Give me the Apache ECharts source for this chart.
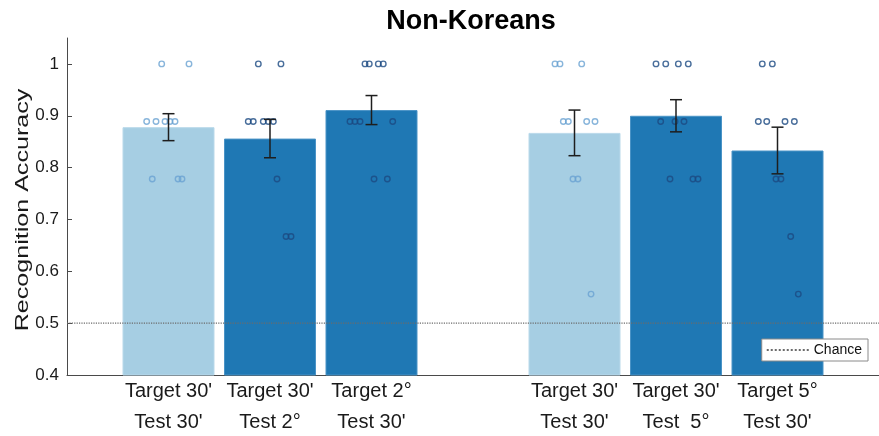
<!DOCTYPE html>
<html>
<head>
<meta charset="utf-8">
<title>Non-Koreans</title>
<script src="https://cdn.jsdelivr.net/npm/echarts@6/dist/echarts.min.js"></script>
<style>
  html, body { margin: 0; padding: 0; background: #fff; }
  #chart { width: 879px; height: 436px; }
</style>
</head>
<body>
<div id="chart"></div>
<script>
// Condition labels on the x axis; blank slots separate the two experiment groups
const categories = [
  '',
  "Target 30'\nTest 30'",
  "Target 30'\nTest 2°",
  "Target 2°\nTest 30'",
  '',
  "Target 30'\nTest 30'",
  "Target 30'\nTest  5°",
  "Target 5°\nTest 30'",
  ''
];
const barPos = [1, 2, 3, 5, 6, 7];
const meanAcc = [0.878, 0.856, 0.911, 0.867, 0.900, 0.833];
const semAcc = [0.026, 0.037, 0.028, 0.044, 0.031, 0.045];
const barShade = ['light', 'dark', 'dark', 'light', 'dark', 'dark'];
const yTicks = [0.4, 0.5, 0.6, 0.7, 0.8, 0.9, 1.0];
const chanceLevel = 0.5;

// Individual participant accuracies per condition, with horizontal jitter
const subjScores = [
  [1, 1, 0.889, 0.889, 0.889, 0.889, 0.889, 0.778, 0.778, 0.778],
  [1, 1, 0.889, 0.889, 0.889, 0.889, 0.889, 0.778, 0.667, 0.667],
  [1, 1, 1, 1, 0.889, 0.889, 0.889, 0.889, 0.778, 0.778],
  [1, 1, 1, 0.889, 0.889, 0.889, 0.889, 0.778, 0.778, 0.556],
  [1, 1, 1, 1, 0.889, 0.889, 0.889, 0.778, 0.778, 0.778],
  [1, 1, 0.889, 0.889, 0.889, 0.889, 0.778, 0.778, 0.667, 0.556]
];
const subjJitter = [
  [-0.067, 0.202, -0.215, -0.123, -0.034, 0.015, 0.064, -0.160, 0.094, 0.133],
  [-0.115, 0.108, -0.214, -0.165, -0.066, -0.017, 0.033, 0.069, 0.158, 0.207],
  [-0.064, -0.022, 0.067, 0.116, -0.212, -0.163, -0.113, 0.209, 0.025, 0.156],
  [-0.192, -0.143, 0.071, -0.110, -0.061, 0.120, 0.202, -0.015, 0.034, 0.163],
  [-0.197, -0.101, 0.023, 0.121, -0.151, -0.010, 0.079, -0.059, 0.167, 0.217],
  [-0.150, -0.051, -0.189, -0.106, 0.074, 0.166, -0.015, 0.034, 0.130, 0.205]
];

const palette = {
  light: { bar: '#a6cee3', edge: '#b9d9ea', dot: '#6aa3d2' },
  dark:  { bar: '#1f78b4', edge: '#4a93c6', dot: '#1b4a82' }
};
const FONT = '"Liberation Sans", Arial, Helvetica, sans-serif';

const barData = barPos.map((x, i) => ({
  value: [x, meanAcc[i]],
  itemStyle: {
    color: palette[barShade[i]].bar,
    borderColor: palette[barShade[i]].edge,
    borderWidth: 1
  }
}));

const errData = barPos.map((x, i) => [x, meanAcc[i] - semAcc[i], meanAcc[i] + semAcc[i]]);

const dotData = [];
subjScores.forEach((scores, i) => {
  scores.forEach((s, k) => {
    dotData.push({
      value: [barPos[i] + subjJitter[i][k], s],
      itemStyle: { borderColor: palette[barShade[i]].dot }
    });
  });
});

const chart = echarts.init(document.getElementById('chart'), null, { renderer: 'canvas' });

chart.setOption({
  animation: false,
  backgroundColor: '#ffffff',
  title: {
    text: 'Non-Koreans',
    left: 466,
    textAlign: 'center',
    top: 3,
    textStyle: { fontFamily: FONT, fontSize: 27, fontWeight: 'bold', color: '#000' }
  },
  // Vertical axis title, drawn tall and narrow
  graphic: [{
    type: 'text',
    x: 22.5,
    y: 210,
    rotation: Math.PI / 2,
    scaleX: 1.32,
    scaleY: 1,
    style: {
      text: 'Recognition Accuracy',
      fontFamily: FONT,
      fontSize: 19,
      fill: '#1a1a1a',
      align: 'center',
      verticalAlign: 'middle'
    }
  }],
  legend: {
    data: ['Chance'],
    right: 11,
    top: 339,
    padding: [4, 6, 4, 4],
    itemWidth: 42,
    itemHeight: 10,
    backgroundColor: '#ffffff',
    borderColor: '#8a8a8a',
    borderWidth: 1,
    itemStyle: { opacity: 0 },
    textStyle: { fontFamily: FONT, fontSize: 14, color: '#111' }
  },
  grid: {
    left: 67, right: 0, top: 38, bottom: 61,
    containLabel: false,
    outerBoundsMode: 'none'
  },
  xAxis: {
    type: 'value',
    min: 0,
    max: 8,
    interval: 1,
    splitLine: { show: false },
    axisTick: { show: false },
    axisLine: { lineStyle: { color: '#4a4a4a', width: 1 } },
    axisLabel: {
      margin: 1,
      fontFamily: FONT,
      fontSize: 20,
      lineHeight: 31,
      color: '#1a1a1a',
      showMinLabel: true,
      showMaxLabel: true,
      formatter: v => categories[Math.round(v)] || ''
    }
  },
  yAxis: {
    type: 'value',
    min: 0.4,
    max: 1.05,
    interval: 0.1,
    splitLine: { show: false },
    axisLine: { show: true, lineStyle: { color: '#4a4a4a', width: 1 } },
    axisTick: {
      inside: true, length: 5,
      customValues: yTicks,
      lineStyle: { color: '#4a4a4a' }
    },
    axisLabel: {
      margin: 8,
      fontFamily: FONT,
      fontSize: 17,
      color: '#1a1a1a',
      customValues: yTicks,
      formatter: v => String(Number(v.toFixed(1)))
    }
  },
  series: [
    {
      type: 'bar',
      name: 'Accuracy',
      barWidth: 92,
      data: barData,
      z: 2
    },
    {
      type: 'line',
      name: 'Chance',
      data: [[0, chanceLevel], [8, chanceLevel]],
      symbol: 'none',
      itemStyle: { color: '#6b6b6b' },
      lineStyle: { type: 'dotted', width: 1.2, color: '#6b6b6b' },
      z: 3
    },
    {
      type: 'scatter',
      name: 'Participants',
      data: dotData,
      symbol: 'circle',
      symbolSize: 5.5,
      itemStyle: { color: 'rgba(0,0,0,0)', borderWidth: 1.4 },
      z: 4
    },
    {
      type: 'custom',
      name: 'SEM',
      data: errData,
      z: 5,
      renderItem: (params, api) => {
        const x = api.value(0);
        const lo = api.coord([x, api.value(1)]);
        const hi = api.coord([x, api.value(2)]);
        const cap = 6;
        const style = { stroke: '#1e1e1e', lineWidth: 1.5 };
        return {
          type: 'group',
          children: [
            { type: 'line', shape: { x1: lo[0], y1: lo[1], x2: hi[0], y2: hi[1] }, style },
            { type: 'line', shape: { x1: lo[0] - cap, y1: lo[1], x2: lo[0] + cap, y2: lo[1] }, style },
            { type: 'line', shape: { x1: hi[0] - cap, y1: hi[1], x2: hi[0] + cap, y2: hi[1] }, style }
          ]
        };
      }
    }
  ]
});
</script>
</body>
</html>
